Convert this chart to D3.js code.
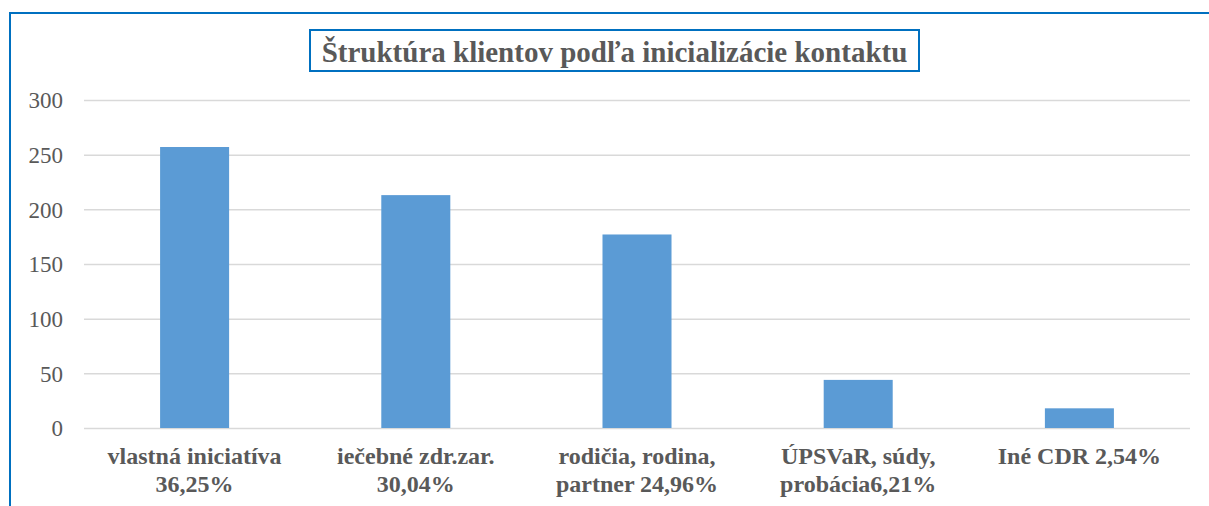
<!DOCTYPE html>
<html>
<head>
<meta charset="utf-8">
<script src="https://cdn.jsdelivr.net/npm/d3@7"></script>
<style>
  body { margin: 0; background: #fff; }
</style>
</head>
<body>
<script>
// chart values
let categories = [
    ["vlastná iniciatíva", "36,25%"],
    ["iečebné zdr.zar.", "30,04%"],
    ["rodičia, rodina,", "partner 24,96%"],
    ["ÚPSVaR, súdy,", "probácia6,21%"],
    ["Iné CDR 2,54%"]
]
let clients = [257, 213, 177, 44, 18]
let yTicks = [0, 50, 100, 150, 200, 250, 300]
let title = "Štruktúra klientov podľa inicializácie kontaktu"

let width = 1209
let height = 506
let blue = "#0070c0"
let grey = "#595959"
let serif = "'Liberation Serif', 'DejaVu Serif', serif"

let plot = { left: 84, right: 1190, top: 100, bottom: 428 }

let svg = d3.select("body")
    .append("svg")
    .attr("width", width)
    .attr("height", height)

// outer chart frame (runs off the right and bottom of the picture)
svg.append("rect")
    .attr("x", 10)
    .attr("y", 13)
    .attr("width", width + 20)
    .attr("height", height + 20)
    .attr("fill", "none")
    .attr("stroke", blue)
    .attr("stroke-width", 2)

let x = d3.scaleBand()
    .domain(d3.range(categories.length))
    .range([plot.left, plot.right])
    .paddingInner(0.688)
    .paddingOuter(0.344)

let y = d3.scaleLinear()
    .domain([0, 300])
    .range([plot.bottom, plot.top])

// gridlines + tick labels
let yAxis = d3.axisLeft(y)
    .tickValues(yTicks)
    .tickSize(-(plot.right - plot.left))
    .tickPadding(21)

let gy = svg.append("g")
    .attr("transform", "translate(" + plot.left + ",0)")
    .call(yAxis)

gy.select(".domain").remove()
gy.selectAll(".tick line")
    .attr("stroke", "#d9d9d9")
    .attr("stroke-width", 1.5)
gy.selectAll(".tick text")
    .style("font-family", serif)
    .style("font-size", "23px")
    .attr("fill", grey)
    .attr("dy", "0.34em")

svg.selectAll(".bar")
    .data(clients)
    .enter()
    .append("rect")
    .attr("class", "bar")
    .attr("x", function (d, i) { return x(i) })
    .attr("y", function (d) { return y(d) })
    .attr("width", x.bandwidth())
    .attr("height", function (d) { return y(0) - y(d) })
    .attr("fill", "#5b9bd5")

// category labels, two lines each
let labels = svg.selectAll(".cat")
    .data(categories)
    .enter()
    .append("text")
    .attr("class", "cat")
    .attr("text-anchor", "middle")
    .style("font-family", serif)
    .style("font-size", "24px")
    .style("font-weight", "bold")
    .attr("fill", grey)

labels.selectAll("tspan")
    .data(function (d, i) { return d.map(function (s) { return { s: s, i: i } }) })
    .enter()
    .append("tspan")
    .attr("x", function (d) { return x(d.i) + x.bandwidth() / 2 })
    .attr("y", function (d, j) { return 464 + j * 28 })
    .text(function (d) { return d.s })

// title with its box
svg.append("rect")
    .attr("x", 310)
    .attr("y", 30)
    .attr("width", 609)
    .attr("height", 41)
    .attr("fill", "#fff")
    .attr("stroke", blue)
    .attr("stroke-width", 2)

svg.append("text")
    .attr("x", 614.5)
    .attr("y", 62)
    .attr("text-anchor", "middle")
    .style("font-family", serif)
    .style("font-size", "29px")
    .style("font-weight", "bold")
    .attr("fill", grey)
    .text(title)
</script>
</body>
</html>
